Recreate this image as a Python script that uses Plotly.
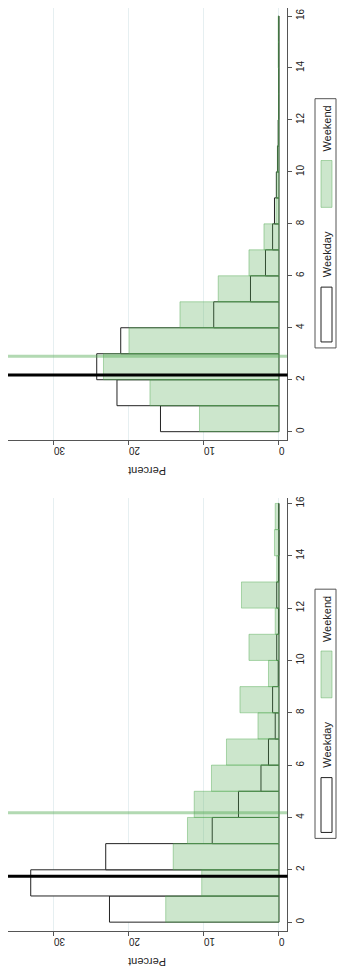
import plotly.graph_objects as go

# ---- data ----
hour_bins = list(range(16))  # left edges of 1-hour bins, 0..15

top_weekday = [15.8, 21.6, 24.3, 21.1, 8.7, 3.8, 1.8, 0.85, 0.6, 0.35, 0.2, 0.1, 0.05, 0.05, 0.05, 0.05]
top_weekend = [10.6, 17.2, 23.4, 20.0, 13.2, 8.1, 4.0, 2.0, 0.4, 0.3, 0.2, 0.1, 0.05, 0.05, 0.1, 0.1]
top_means = {"Weekday": 2.18, "Weekend": 2.9}

bot_weekday = [22.6, 33.1, 23.1, 8.9, 5.4, 2.4, 1.4, 0.5, 0.85, 0.1, 0.3, 0.05, 0.3, 0.05, 0.0, 0.05]
bot_weekend = [15.1, 10.3, 14.1, 12.2, 11.3, 9.0, 7.0, 2.8, 5.2, 1.4, 4.0, 0.5, 5.0, 0.3, 0.6, 0.5]
bot_means = {"Weekday": 1.75, "Weekend": 4.18}

hour_ticks = [0, 2, 4, 6, 8, 10, 12, 14, 16]
pct_ticks = [0, 10, 20, 30]

# ---- style ----
W, H = 339, 969
GREEN_FILL = "rgba(85,171,85,0.30)"
GREEN_LINE = "rgba(85,171,85,0.45)"
GREEN_MEAN = "rgba(85,171,85,0.45)"
AXIS_COL = "#555555"
GRID_COL = "#e6eff1"
FONT = "Arial"

def px(x):
    return x / W

def py(y):
    return 1 - y / H

centers = [b + 0.5 for b in hour_bins]

fig = go.Figure()

panels = [
    ("x", "y", top_weekday, top_weekend, top_means),
    ("x2", "y2", bot_weekday, bot_weekend, bot_means),
]
for xa, ya, wd, we, means in panels:
    fig.add_trace(go.Bar(
        x=wd, y=centers, width=1, orientation="h",
        marker=dict(color="white", line=dict(color="#222222", width=1)),
        xaxis=xa, yaxis=ya, showlegend=False,
    ))
    fig.add_trace(go.Bar(
        x=we, y=centers, width=1, orientation="h",
        marker=dict(color=GREEN_FILL, line=dict(color=GREEN_LINE, width=1)),
        xaxis=xa, yaxis=ya, showlegend=False,
    ))
    xd = "x domain" if xa == "x" else "x2 domain"
    fig.add_shape(type="line", xref=xd, yref=ya, x0=0, x1=1,
                  y0=means["Weekend"], y1=means["Weekend"],
                  line=dict(color=GREEN_MEAN, width=3), layer="above")
    fig.add_shape(type="line", xref=xd, yref=ya, x0=0, x1=1.002,
                  y0=means["Weekday"], y1=means["Weekday"],
                  line=dict(color="black", width=3), layer="above")

xdom = [px(8), px(287)]
common_x = dict(
    domain=xdom, range=[36.13, -1.07], tickvals=pct_ticks, ticktext=[str(t) for t in pct_ticks],
    tickangle=180, showline=True, linecolor=AXIS_COL, linewidth=1, ticks="outside",
    ticklen=4, tickcolor=AXIS_COL, showgrid=True, gridcolor=GRID_COL, gridwidth=1,
    zeroline=False, tickfont=dict(family=FONT, size=10, color="#222222"),
)
common_y = dict(
    side="right", tickvals=hour_ticks, ticktext=[str(t) for t in hour_ticks],
    tickangle=-90, showline=True, linecolor=AXIS_COL, linewidth=1, ticks="outside",
    ticklen=4, tickcolor=AXIS_COL, showgrid=False, zeroline=False,
    tickfont=dict(family=FONT, size=10, color="#222222"),
)

fig.update_layout(
    width=W, height=H, margin=dict(l=0, r=0, t=0, b=0),
    paper_bgcolor="white", plot_bgcolor="white", barmode="overlay",
    xaxis=dict(**common_x, anchor="y"),
    yaxis=dict(**common_y, anchor="x", domain=[py(438.5), py(5)], range=[-0.326, 16.31]),
    xaxis2=dict(**common_x, anchor="y2"),
    yaxis2=dict(**common_y, anchor="x2", domain=[py(930.5), py(497)], range=[-0.324, 16.19]),
    font=dict(family=FONT),
)

annotations = []
shapes = []
for off in (0, 492):
    annotations.append(dict(text="Percent", x=px(147), y=py(470 + off), xref="paper", yref="paper",
                            xanchor="center", yanchor="middle",
                            showarrow=False, textangle=180, font=dict(family=FONT, size=11, color="#222222")))
    # legend box
    shapes.append(dict(type="rect", xref="paper", yref="paper", x0=px(315), x1=px(336),
                       y0=py(346 + off), y1=py(96 + off), line=dict(color="#555555", width=1),
                       fillcolor="white", layer="above"))
    shapes.append(dict(type="rect", xref="paper", yref="paper", x0=px(321), x1=px(332),
                       y0=py(340 + off), y1=py(285 + off), line=dict(color="#222222", width=1),
                       fillcolor="white", layer="above"))
    shapes.append(dict(type="rect", xref="paper", yref="paper", x0=px(321), x1=px(332),
                       y0=py(205 + off), y1=py(158 + off), line=dict(color=GREEN_LINE, width=1),
                       fillcolor=GREEN_FILL, layer="above"))
    annotations.append(dict(text="Weekday", x=px(327), y=py(252 + off), xref="paper", yref="paper",
                            xanchor="center", yanchor="middle",
                            showarrow=False, textangle=-90, font=dict(family=FONT, size=11, color="#222222")))
    annotations.append(dict(text="Weekend", x=px(327), y=py(126 + off), xref="paper", yref="paper",
                            xanchor="center", yanchor="middle",
                            showarrow=False, textangle=-90, font=dict(family=FONT, size=11, color="#222222")))

for s in shapes:
    fig.add_shape(**s)
fig.update_layout(annotations=annotations)

fig.write_html("out.html", config={"displayModeBar": False},
               post_script="document.body.style.margin='0';document.body.style.overflow='hidden';")
